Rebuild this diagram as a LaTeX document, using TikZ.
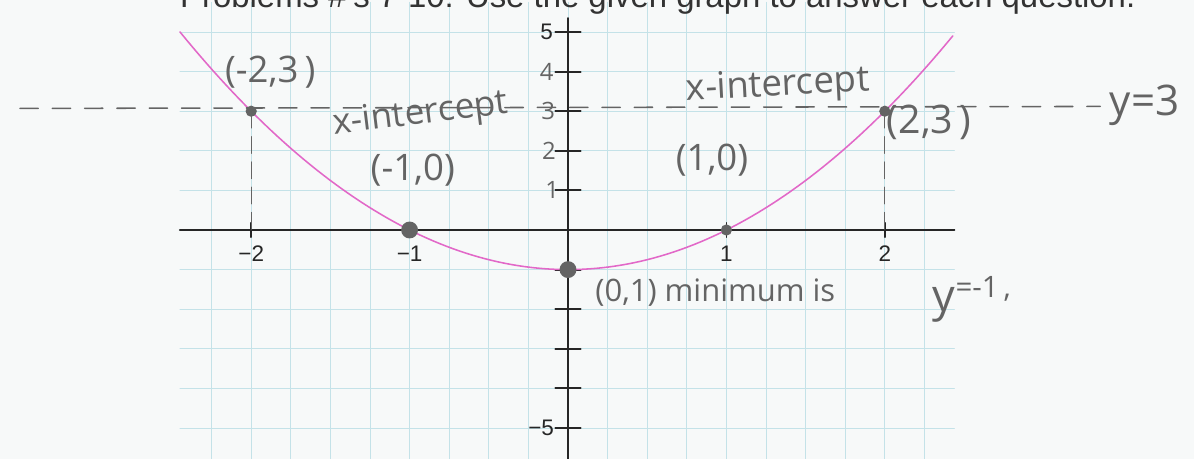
\documentclass[tikz,border=0pt]{standalone}
\usepackage{fontspec}
\setmainfont{Liberation Sans}
\newfontfamily\handfont{Open Sans}
\definecolor{paper}{RGB}{247,249,249}
\definecolor{gridblue}{RGB}{196,226,232}
\definecolor{pencilgray}{RGB}{100,100,100}
\definecolor{curvepink}{RGB}{226,104,200}
\begin{document}
\begin{tikzpicture}[x=3.96cm,y=0.99cm,line join=round,line cap=round,
	pencil/.style={draw=pencilgray,line width=1.1pt},
	hand/.style={text=pencilgray,inner sep=0pt,font=\handfont\fontsize{26}{26}\selectfont},
	printed/.style={inner sep=0pt,text=black!85,font=\fontsize{16}{16}\selectfont}]
	\useasboundingbox[fill=paper] (-3.586,-5.783) rectangle (3.952,5.808);
	% grid
	\foreach \k in {-9,...,9}
	\draw[gridblue,line width=0.6pt] (\k*0.25,-5.8) -- (\k*0.25,5.75);
	\foreach \k in {-6,...,5}
	\draw[gridblue,line width=0.6pt] (-2.45,\k) -- (2.44,\k);
	% header, cut off by the page edge
	\node[anchor=base west,inner sep=0pt,text=black!80,font=\fontsize{23.4}{24}\selectfont] (title) at (-2.45,5.62) {Problems \#'s 7-10: Use the given graph to answer each question.};
	% axes
	\draw[black!85,line width=1.4pt] (-2.45,0) -- (2.44,0);
	\draw[black!85,line width=1.4pt] (0,-5.8) -- (0,5.35);
	\foreach \y in {-5,...,-1,1,2,3,4,5}
	\draw[black!85,line width=1.4pt] (-0.08,\y) -- (0.08,\y);
	\foreach \x/\t in {-2/−2,-1/−1,1/1,2/2}{
		\draw[black!85,line width=1.2pt] (\x,-0.18) -- (\x,0.18);
		\node[printed] (xl\x) at (\x,-0.6) {\t};
	}
	\node[printed] (yl5) at (-0.135,5) {5};
	\node[printed] (ylm5) at (-0.17,-5) {−5};
	% pencil labels on the y axis
	\foreach \y/\d in {4/-0.135,3/-0.125,2/-0.12,1/-0.1}
	\node[hand,font=\handfont\fontsize{17}{17}\selectfont] (yh\y) at (\d,\y) {\y};
	% the parabola y = x^2 - 1
	\draw[curvepink,line width=1.1pt,domain=-2.45:2.43,samples=120] plot (\x,{\x*\x-1});
	\path
	(-2,3) coordinate (A)
	(-1,0) coordinate (B)
	(0,-1) coordinate (C)
	(1,0) coordinate (D)
	(2,3) coordinate (E)
	(-2,0) coordinate (Af)
	(2,0) coordinate (Ef)
	(-3.46,3.07) coordinate (L3)
	(3.36,3.12) coordinate (R3)
	;
	% pencil work
	\draw[pencil,dash pattern=on 13pt off 10pt] (L3) -- (R3);
	\draw[pencil,line width=0.6pt,dash pattern=on 12pt off 6pt] (A) -- (Af);
	\draw[pencil,line width=0.6pt,dash pattern=on 12pt off 6pt] (E) -- (Ef);
	\foreach \p/\r in {A/4pt,B/6pt,C/6pt,D/4pt,E/4pt}
	\fill[pencilgray] (\p) circle (\r);
	\node[hand] (lA) at (-1.88,3.99) {(-2,3\,)};
	\node[hand,rotate=7,font=\handfont\fontsize{25}{25}\selectfont] (xintL) at (-0.93,2.9) {x-intercept};
	\node[hand] (lB) at (-0.98,1.52) {(-1,0)};
	\node[hand,rotate=3] (xintR) at (1.326,3.62) {x-intercept};
	\node[hand] (lD) at (0.909,1.77) {(1,0)};
	\node[hand,font=\handfont\fontsize{28}{28}\selectfont] (lE) at (2.28,2.73) {(2,3\,)};
	\node[hand,font=\handfont\fontsize{30}{30}\selectfont] (ythree) at (3.64,3.16) {y=3};
	\node[hand,font=\handfont\fontsize{22}{22}\selectfont] (lC) at (0.93,-1.59) {(0,1)\ minimum is};
	\node[hand,font=\handfont\fontsize{32}{32}\selectfont] (ymin) at (2.55,-1.75) {y\raisebox{0.3em}{\fontsize{21}{21}\selectfont=-1\,,}};
\end{tikzpicture}
\end{document}
